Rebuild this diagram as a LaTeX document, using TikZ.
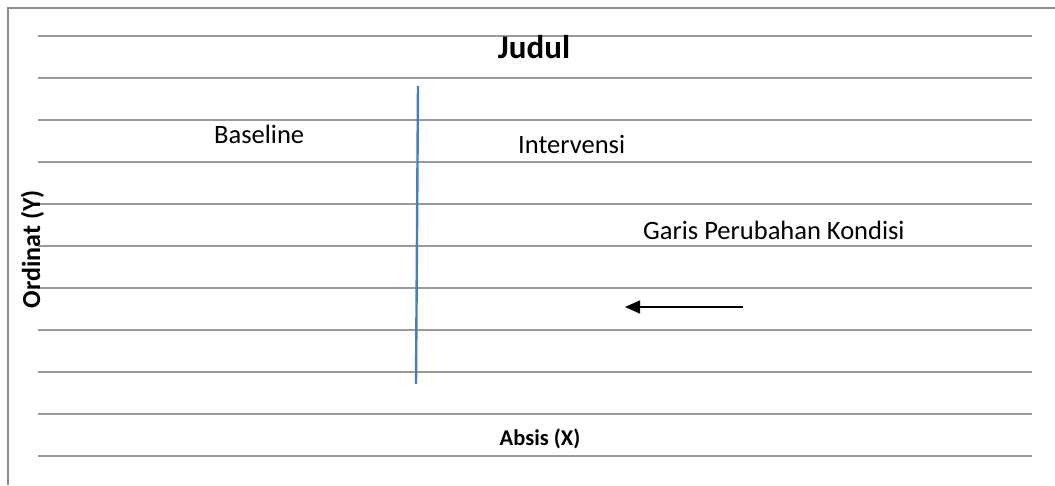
\documentclass[tikz,border=0pt]{standalone}
\usepackage{fontspec}
\setmainfont{Carlito}
\usetikzlibrary{arrows.meta}
\definecolor{rulegray}{HTML}{9A9A9A}
\definecolor{framegray}{HTML}{8C8C8C}
\definecolor{divblue}{HTML}{4A7EBB}
\tikzset{
  rowline/.style={draw=rulegray, line width=2pt},
  frameline/.style={draw=framegray, line width=2.2pt},
  divline/.style={draw=divblue, line width=2.4pt},
  plain/.style={font=\fontsize{26.5}{30}\selectfont, inner sep=0pt, anchor=base west},
  axislabel/.style={font=\fontsize{26}{30}\selectfont\bfseries, inner sep=0pt},
  titlelabel/.style={font=\fontsize{33}{38}\selectfont\bfseries, inner sep=0pt, anchor=base},
  pointer/.style={draw=black, line width=1.6pt, -{Triangle[length=15pt,width=13pt]}}
}
\begin{document}
\begin{tikzpicture}[x=1pt,y=-1pt]
\useasboundingbox (0,0) rectangle (1055,485);
\fill[white] (0,0) rectangle (1055,485);
% frame
\coordinate (ftl) at (8,8);
\coordinate (ftr) at (1055,8);
\coordinate (fbl) at (8,485);
\draw[frameline] (ftr) -- (ftl) -- (fbl);
% row lines
\foreach \i in {0,...,10} {
  \coordinate (l\i) at (38,36+42*\i);
  \coordinate (r\i) at (1032,36+42*\i);
  \draw[rowline] (l\i) -- (r\i);
}
% condition change line
\coordinate (dtop) at (418,86);
\coordinate (dbot) at (416,384);
\draw[divline] (dtop) -- (dbot);
% texts
\node[titlelabel] (judul) at (534,58) {Judul};
\node[plain] (baseline) at (214,143) {Baseline};
\node[plain] (intervensi) at (518,153) {Intervensi};
\node[plain] (garis) at (643,239) {Garis Perubahan Kondisi};
\node[axislabel, font=\fontsize{22.5}{26}\selectfont\bfseries, anchor=base] (absis) at (540,445) {Absis (X)};
\node[axislabel, rotate=90, anchor=base] (ordinat) at (40,249) {Ordinat (Y)};
% arrow
\coordinate (astart) at (743,307);
\coordinate (aend) at (625,307);
\draw[pointer] (astart) -- (aend);
\end{tikzpicture}
\end{document}
